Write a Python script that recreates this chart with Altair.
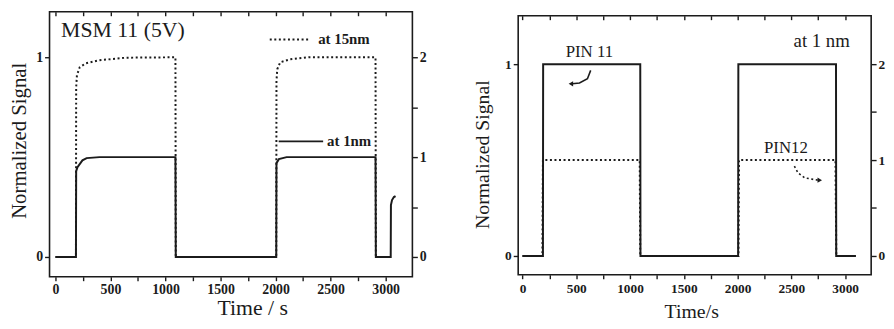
import altair as alt
import pandas as pd

FONT = "Liberation Serif"
INK = "#1b1b1b"

# ---------------- data ----------------
# Left panel: MSM 11 (5V)
# "at 15nm" (dotted, left axis, 0..1)
msm15_t = [0, 186, 188, 195, 220, 275, 395, 640, 1090, 1093,
           2006, 2008, 2015, 2042, 2132, 2300, 2908, 2911, 3040]
msm15_v = [0, 0, 0.85, 0.91, 0.95, 0.97, 0.985, 0.998, 1.0, 0,
           0, 0.88, 0.94, 0.975, 0.99, 1.0, 1.0, 0, 0]
# "at 1nm" (solid, right axis, 0..2)
msm1_t = [0, 186, 188, 200, 245, 283, 400, 1090, 1093,
          2006, 2008, 2030, 2100, 2500, 2908, 2911,
          3046, 3048, 3058, 3075, 3090]
msm1_v = [0, 0, 0.86, 0.90, 0.968, 0.99, 1.0, 1.0, 0,
          0, 0.94, 0.98, 1.0, 1.0, 1.0, 0,
          0, 0.52, 0.57, 0.60, 0.61]

# Right panel: PIN photodiodes at 1 nm
# PIN 11 (solid, left axis, 0..1)
pin11_t = [0, 190, 192, 1095, 1097, 2005, 2007, 2915, 2917, 3100]
pin11_v = [0, 0, 1.0, 1.0, 0, 0, 1.0, 1.0, 0, 0]
# PIN12 (dotted, right axis, 0..2)
pin12_t = [0, 185, 190, 1090, 1095, 2008, 2013, 2910, 2918, 3100]
pin12_v = [0, 0, 1.0, 1.0, 0, 0, 1.0, 1.0, 0, 0]

# axis ticks
x_ticks = [0, 250, 500, 750, 1000, 1250, 1500, 1750, 2000, 2250, 2500, 2750, 3000]
yl_ticks = [0, 1]
yr_ticks = [0, 0.5, 1, 1.5, 2]

# ---------------- helpers ----------------
def df(t, v):
    return pd.DataFrame({"t": t, "v": v, "i": list(range(len(t)))})


def bottom_axis(title, title_fs, label_fs, title_x, ext, lpad, tpad):
    return alt.Axis(orient="bottom", values=x_ticks, format="d",
                    labelExpr="datum.value % 500 === 0 ? datum.label : ''",
                    tickSize=4, labelFont=FONT, titleFont=FONT,
                    labelFontSize=label_fs, labelPadding=lpad, labelFlush=False, labelOverlap=False,
                    title=title, titleFontSize=title_fs, titleFontWeight="normal",
                    titleX=title_x, titlePadding=tpad, minExtent=ext, maxExtent=ext)


def top_axis():
    return alt.Axis(orient="top", values=x_ticks, labels=False, tickSize=4, offset=-4,
                    title=None, minExtent=0, maxExtent=0)


def left_axis(title_fs, label_fs, title_y, ext, tpad):
    return alt.Axis(orient="left", values=yl_ticks, format="d", tickSize=5,
                    labelFont=FONT, titleFont=FONT,
                    labelFontSize=label_fs, labelPadding=2, labelOverlap=False,
                    title="Normalized Signal", titleFontSize=title_fs, titleFontWeight="normal",
                    titleY=title_y, titlePadding=tpad, minExtent=ext, maxExtent=ext)


def right_axis(label_fs, ext):
    return alt.Axis(orient="right", values=yr_ticks, tickSize=5, labelFont=FONT,
                    labelExpr="datum.value % 1 === 0 ? format(datum.value, 'd') : ''",
                    labelFontSize=label_fs, labelPadding=2, labelOverlap=False,
                    title=None, minExtent=ext, maxExtent=ext)


def line(data, xdom, ydom, xaxis=None, yaxis=None, dotted=False, width=2.0):
    kw = dict(strokeWidth=width, color=INK)
    if dotted:
        kw.update(strokeDash=[2, 2.6], strokeCap="butt")
    return alt.Chart(data).mark_line(**kw).encode(
        x=alt.X("t:Q", scale=alt.Scale(domain=xdom, nice=False, zero=False), axis=xaxis),
        y=alt.Y("v:Q", scale=alt.Scale(domain=ydom, nice=False, zero=False), axis=yaxis),
        order="i:Q",
    )


def label(text, t, v, xdom, ydom, size, align="left", baseline="alphabetic", weight="normal"):
    d = pd.DataFrame({"t": [t], "v": [v], "s": [text]})
    return alt.Chart(d).mark_text(font=FONT, fontSize=size, align=align, baseline=baseline,
                                  fontWeight=weight, color=INK).encode(
        x=alt.X("t:Q", scale=alt.Scale(domain=xdom, nice=False, zero=False), axis=None),
        y=alt.Y("v:Q", scale=alt.Scale(domain=ydom, nice=False, zero=False), axis=None),
        text="s:N",
    )


def head(shape, t, v, xdom, ydom):
    d = pd.DataFrame({"t": [t], "v": [v]})
    return alt.Chart(d).mark_point(shape=shape, filled=True, size=28, color=INK, opacity=1).encode(
        x=alt.X("t:Q", scale=alt.Scale(domain=xdom, nice=False, zero=False), axis=None),
        y=alt.Y("v:Q", scale=alt.Scale(domain=ydom, nice=False, zero=False), axis=None),
    )


# ---------------- left panel ----------------
XL = [-54, 3243]
YL = [-0.099, 1.228]
YL2 = [-0.198, 2.456]

left = alt.layer(
    line(df(msm15_t, msm15_v), XL, YL,
         xaxis=bottom_axis("Time / s", 22, 14, 205, 18, 2, 3),
         yaxis=left_axis(21, 14, 130, 14, 6), dotted=True),
    line(df(msm1_t, msm1_v), XL, YL2, xaxis=top_axis(), yaxis=right_axis(14, 14)),
    label("MSM 11 (5V)", 51, 1.102, XL, YL, 22),
    line(df([1947, 2297], [1.089, 1.089]), XL, YL, dotted=True),
    label("at 15nm", 2387, 1.089, XL, YL, 15, baseline="middle", weight="bold"),
    line(df([2028, 2432], [0.579, 0.579]), XL, YL, width=1.6),
    label("at 1nm", 2468, 0.579, XL, YL, 15, baseline="middle", weight="bold"),
).resolve_scale(y="independent").properties(width=367, height=268)

# ---------------- right panel ----------------
XR = [-40, 3242]
YR = [-0.098, 1.253]
YR2 = [-0.196, 2.505]

right_plot = alt.layer(
    line(df(pin11_t, pin11_v), XR, YR,
         xaxis=bottom_axis("Time/s", 20, 13.5, 175, 18, 3, 9),
         yaxis=left_axis(20, 13.5, 140, 16, 10)),
    line(df(pin12_t, pin12_v), XR, YR2, xaxis=top_axis(), yaxis=right_axis(13.5, 14), dotted=True),
    label("PIN 11", 622, 1.036, XR, YR, 17, align="center"),
    line(df([634, 604, 530, 462], [0.968, 0.924, 0.902, 0.898]), XR, YR, width=1.6),
    head("triangle-left", 450, 0.898, XR, YR),
    label("PIN12", 2449, 0.538, XR, YR, 17, align="center"),
    line(df([2528, 2562, 2626, 2750], [0.469, 0.433, 0.407, 0.395]), XR, YR, dotted=True, width=1.6),
    head("triangle-right", 2764, 0.395, XR, YR),
    label("at 1 nm", 2782, 1.088, XR, YR, 19, align="center"),
).resolve_scale(y="independent").properties(width=357, height=262)

# empty 1px spacer that drops the right panel a few pixels, as in the original
spacer = alt.Chart(pd.DataFrame({"t": []})).mark_point(opacity=0).encode(
    x=alt.value(0), y=alt.value(0)
).properties(width=1, height=1, view=alt.ViewBackground(stroke=None))

right = alt.vconcat(spacer, right_plot, spacing=1)

chart = (
    alt.hconcat(left, right, spacing=45)
    .properties(padding=0, background="white")
    .configure_view(stroke=INK, strokeWidth=1.6)
    .configure_axis(labelFont=FONT, titleFont=FONT, labelFontWeight="bold", labelColor=INK,
                    titleColor=INK, tickColor=INK, tickWidth=1.4, domain=False, grid=False)
)

chart.save("out.html", embed_options={"renderer": "svg", "actions": False})
